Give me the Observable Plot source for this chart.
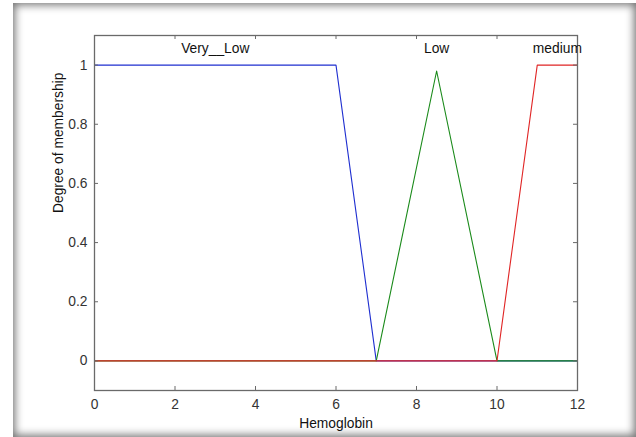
<!DOCTYPE html>
<html>
<head>
<meta charset="utf-8">
<script src="https://cdn.jsdelivr.net/npm/d3@7"></script>
<script src="https://cdn.jsdelivr.net/npm/@observablehq/plot@0.6"></script>
<style>
  html, body { margin: 0; padding: 0; background: #fff; }
  #wrap { position: relative; width: 636px; height: 437px; overflow: hidden; background: #fff; }
  #wrap svg { position: absolute; left: 0; top: 0; background: transparent; }
  #frame { position: absolute; left: 13px; top: 3px; width: 623px; height: 434px;
           box-shadow: inset 0 0 9px 2px rgba(0,0,0,0.55); pointer-events: none; }
</style>
</head>
<body>
<div id="wrap"><div id="frame"></div></div>
<script>
// ---- data ----
const xTicks = [0, 2, 4, 6, 8, 10, 12];
const yTicks = [0, 0.2, 0.4, 0.6, 0.8, 1];
const veryLowX = [0, 6, 7, 12];
const veryLowY = [1, 1, 0, 0];
const lowX = [0, 7, 8.5, 10, 12];
const lowY = [0, 0, 0.98, 0, 0];
const mediumX = [0, 10, 11, 12];
const mediumY = [0, 0, 1, 1];
const mfNames = ["Very__Low", "Low", "medium"];
const mfLabelX = [3, 8.5, 11.5];
const mfLabelY = [1.055, 1.055, 1.055];
const xLabel = "Hemoglobin";
const yLabel = "Degree of membership";

// ---- layout ----
const W = 636, H = 437;
const mL = 94, mR = 59, mT = 35, mB = 47;
const xDom = [0, 12], yDom = [-0.1, 1.1];
const pxX = (xDom[1] - xDom[0]) / (W - mL - mR);
const pxY = (yDom[1] - yDom[0]) / (H - mT - mB);
const tickLen = 4;

const toPts = (xs, ys) => xs.map((x, i) => ({x, y: ys[i]}));
const veryLow = toPts(veryLowX, veryLowY);
const low = toPts(lowX, lowY);
const medium = toPts(mediumX, mediumY);
const labels = mfNames.map((name, i) => ({name, x: mfLabelX[i], y: mfLabelY[i]}));

const innerX = xTicks.filter(d => d > xDom[0] && d < xDom[1]);
const innerY = yTicks;

const font = "'Liberation Sans', Arial, Helvetica, sans-serif";
const fs = 13.8;

const chart = Plot.plot({
  width: W, height: H,
  marginLeft: mL, marginRight: mR, marginTop: mT, marginBottom: mB,
  style: {fontFamily: font, fontSize: fs + "px", background: "transparent"},
  x: {domain: xDom, label: null},
  y: {domain: yDom, label: null},
  marks: [
    Plot.line(veryLow, {x: "x", y: "y", stroke: "#1f2fd0", strokeWidth: 1.1}),
    Plot.line(low, {x: "x", y: "y", stroke: "#1a8a1a", strokeWidth: 1.1}),
    Plot.line(medium, {x: "x", y: "y", stroke: "#e02525", strokeWidth: 1.1}),
    Plot.frame({stroke: "#6a6a6a", strokeWidth: 1.3}),
    // inward ticks
    Plot.ruleX(innerX, {x: d => d, y1: yDom[0], y2: yDom[0] + tickLen * pxY, stroke: "#6a6a6a"}),
    Plot.ruleX(innerX, {x: d => d, y1: yDom[1], y2: yDom[1] - tickLen * pxY, stroke: "#6a6a6a"}),
    Plot.ruleY(innerY, {y: d => d, x1: xDom[0], x2: xDom[0] + tickLen * pxX, stroke: "#6a6a6a"}),
    Plot.ruleY(innerY, {y: d => d, x1: xDom[1], x2: xDom[1] - tickLen * pxX, stroke: "#6a6a6a"}),
    Plot.axisX(xTicks, {tickSize: 0, tickPadding: 9, fill: "#333", fontSize: fs, label: null}),
    Plot.axisY(yTicks, {tickSize: 0, tickPadding: 7, fill: "#333", fontSize: fs, label: null, tickFormat: d => String(d)}),
    Plot.text(labels, {x: "x", y: "y", text: "name", fill: "#111", fontSize: fs, textAnchor: "middle", lineAnchor: "middle"}),
    Plot.text([xLabel], {frameAnchor: "bottom", dy: 33, text: d => d, fill: "#111", fontSize: fs, lineAnchor: "middle"}),
    Plot.text([yLabel], {frameAnchor: "left", dx: -36, rotate: -90, text: d => d, fill: "#111", fontSize: fs, lineAnchor: "middle"})
  ]
});
document.getElementById("wrap").insertBefore(chart, document.getElementById("frame"));
</script>
</body>
</html>
